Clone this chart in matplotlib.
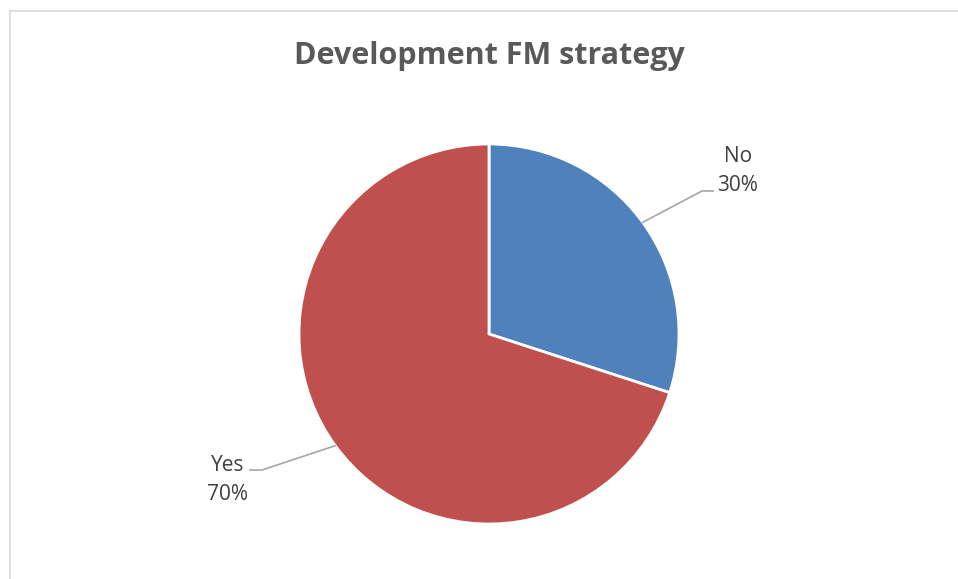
import numpy as np
import matplotlib.pyplot as plt
from matplotlib.lines import Line2D

title = 'Development FM strategy'
labels = ['No', 'Yes']
values = [30, 70]
colors = ['#4F81BD', '#C0504D']

W, H = 958, 579
fig = plt.figure(figsize=(W / 100, H / 100), dpi=100)
ax = fig.add_axes([0, 0, 1, 1])

# chart frame (only left and top edges fall inside the image)
fig.add_artist(Line2D([9.5 / W, 9.5 / W], [0, 1 - 11 / H], transform=fig.transFigure,
                      color='#d9d9d9', lw=1.2))
fig.add_artist(Line2D([9.5 / W, 1], [1 - 11 / H, 1 - 11 / H], transform=fig.transFigure,
                      color='#d9d9d9', lw=1.2))

cx, cy, r = 489, H - 334, 190
wedges, _ = ax.pie(values, colors=colors, startangle=90, counterclock=False,
                   center=(cx, cy), radius=r, frame=True,
                   wedgeprops=dict(edgecolor='white', linewidth=2))
ax.set_xlim(0, W)
ax.set_ylim(0, H)
ax.set_aspect('equal')
ax.axis('off')

ax.text(cx, H - 56, title, ha='center', va='center', fontsize=22,
        fontweight='bold', color='#595959', family='Open Sans')

# leader lines and labels
elbows = [(702, H - 191, 713), (262, H - 470, 250)]
text_pos = [(738, H - 171), (228, H - 480)]
for w, lab, v, (ex, ey, hx), (tx, ty) in zip(wedges, labels, values, elbows, text_pos):
    ang = np.deg2rad((w.theta1 + w.theta2) / 2)
    sx, sy = cx + r * np.cos(ang), cy + r * np.sin(ang)
    ax.plot([sx, ex, hx], [sy, ey, ey], color='#a6a6a6', lw=1.2)
    ax.text(tx, ty, f'{lab}\n{v}%', ha='center', va='center', fontsize=15,
            color='#404040', family='Open Sans', linespacing=1.5)

fig.savefig('out.png', dpi=100)
